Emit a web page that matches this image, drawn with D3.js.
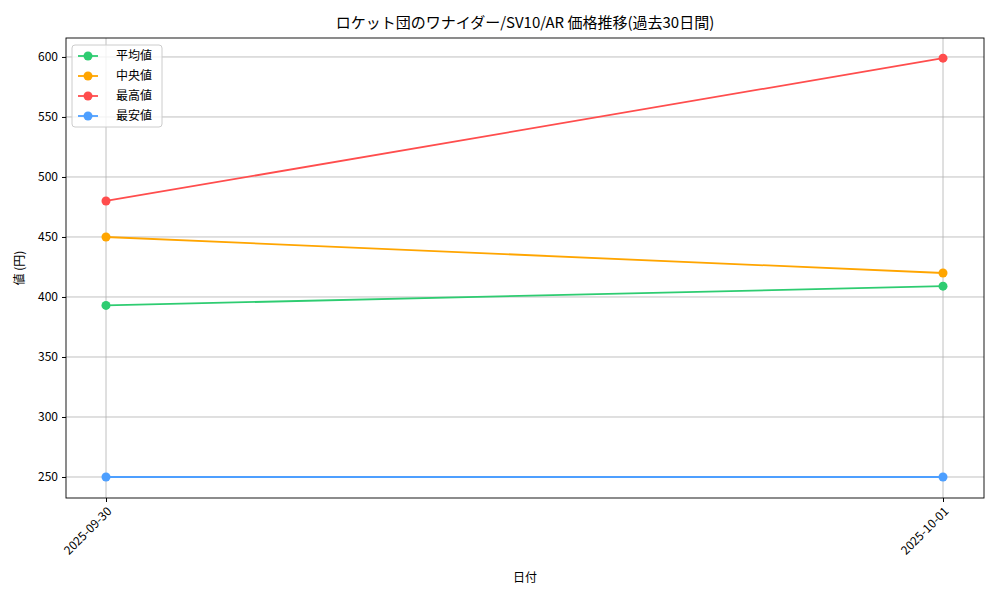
<!DOCTYPE html>
<html><head><meta charset="utf-8">
<script src="https://cdn.jsdelivr.net/npm/d3@7"></script>
<style>body{margin:0;background:#fff}text{font-family:"Noto Sans CJK JP","DejaVu Sans Mono",monospace}</style>
</head><body><svg id="chart" width="1000" height="600"></svg>
<script>
var dates = ["2025-09-30", "2025-10-01"];
var avgValues = [393, 409];
var medianValues = [450, 420];
var maxValues = [480, 599];
var minValues = [250, 250];
var seriesNames = ["平均値", "中央値", "最高値", "最安値"];
var seriesColors = ["#2ecc71", "#ffa500", "#ff4d4d", "#4d9fff"];
var yTicks = [250, 300, 350, 400, 450, 500, 550, 600];

(function() {
var series = [avgValues, medianValues, maxValues, minValues];
var svg = d3.select("#chart");
var pl = 66, pr = 984, pt = 38, pb = 498;

var x = d3.scalePoint().domain(dates).range([106, 943]);
var y = d3.scaleLinear().domain([232.5, 615.8]).range([pb, pt]);

// grid
svg.selectAll(".gy").data(yTicks).enter().append("line")
  .attr("x1", pl).attr("x2", pr)
  .attr("y1", function(d) { return y(d); }).attr("y2", function(d) { return y(d); })
  .attr("stroke", "#b0b0b0").attr("stroke-width", 0.8);
svg.selectAll(".gx").data(dates).enter().append("line")
  .attr("x1", function(d) { return x(d); }).attr("x2", function(d) { return x(d); })
  .attr("y1", pt).attr("y2", pb)
  .attr("stroke", "#b0b0b0").attr("stroke-width", 0.8);

// lines
var line = d3.line().x(function(d, i) { return x(dates[i]); }).y(function(d) { return y(d); });
series.forEach(function(s, k) {
  svg.append("path").attr("d", line(s)).attr("fill", "none")
    .attr("stroke", seriesColors[k]).attr("stroke-width", 1.8);
  svg.selectAll(".p" + k).data(s).enter().append("circle")
    .attr("cx", function(d, i) { return x(dates[i]); })
    .attr("cy", function(d) { return y(d); })
    .attr("r", 4.5).attr("fill", seriesColors[k]);
});

// axes
var yAxis = svg.append("g").attr("transform", "translate(" + pl + ",0)")
  .call(d3.axisLeft(y).tickValues(yTicks).tickSize(4).tickPadding(4));
var xAxis = svg.append("g").attr("transform", "translate(0," + pb + ")")
  .call(d3.axisBottom(x).tickSize(4));
[xAxis, yAxis].forEach(function(a) {
  a.select(".domain").remove();
  a.selectAll("text").attr("font-size", 12).attr("fill", "#000").style("font-family", '"Noto Sans CJK JP"');
  a.selectAll("line").attr("stroke", "#000");
});
xAxis.selectAll("text").attr("text-anchor", "end").attr("dy", 0).attr("y", 0)
  .attr("transform", "translate(6,14) rotate(-45)");
svg.append("rect").attr("x", pl).attr("y", pt).attr("width", pr - pl).attr("height", pb - pt)
  .attr("fill", "none").attr("stroke", "#000").attr("stroke-width", 0.9);

// labels
svg.append("text").attr("x", 525).attr("y", 28).attr("text-anchor", "middle").attr("font-size", 15)
  .text("ロケット団のワナイダー/SV10/AR 価格推移(過去30日間)");
svg.append("text").attr("x", 525).attr("y", 582).attr("text-anchor", "middle").attr("font-size", 12).text("日付");
svg.append("text").attr("transform", "translate(24,268) rotate(-90)").attr("text-anchor", "middle")
  .attr("font-size", 12).text("値 (円)");

// legend
var lg = svg.append("g");
lg.append("rect").attr("x", 72).attr("y", 45).attr("width", 90).attr("height", 82).attr("rx", 3)
  .attr("fill", "#fff").attr("fill-opacity", 0.8).attr("stroke", "#ccc");
seriesNames.forEach(function(n, k) {
  var yy = 56 + k * 20;
  lg.append("line").attr("x1", 78).attr("x2", 98).attr("y1", yy).attr("y2", yy)
    .attr("stroke", seriesColors[k]).attr("stroke-width", 1.8);
  lg.append("circle").attr("cx", 88).attr("cy", yy).attr("r", 4.5).attr("fill", seriesColors[k]);
  lg.append("text").attr("x", 116).attr("y", yy + 4).attr("font-size", 12).text(n);
});
})();
</script></body></html>
